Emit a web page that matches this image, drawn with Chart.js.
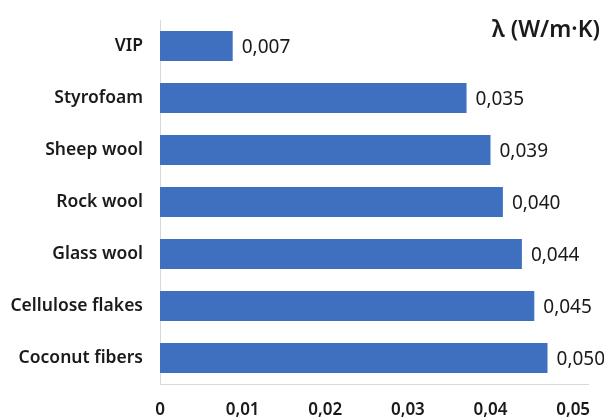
<!DOCTYPE html>
<html>
<head>
<meta charset="utf-8">
<script src="https://cdn.jsdelivr.net/npm/chart.js@4"></script>
<style>
  html, body { margin: 0; padding: 0; background: #fff; }
  #wrap { width: 604px; height: 419px; }
</style>
</head>
<body>
<div id="wrap"><canvas id="grafica" width="604" height="419"></canvas></div>
<script>
// materiales y lambda (W/m·K)
const materiales = ['VIP', 'Styrofoam', 'Sheep wool', 'Rock wool', 'Glass wool', 'Cellulose flakes', 'Coconut fibers'];
// largo de las barras tal como se ven en la figura
const valores = [0.0088, 0.0371, 0.0400, 0.0415, 0.0438, 0.0453, 0.0469];
// texto que aparece junto a cada barra
const etiquetas = ['0,007', '0,035', '0,039', '0,040', '0,044', '0,045', '0,050'];
const ticksX = [0, 0.01, 0.02, 0.03, 0.04, 0.05];
const ticksTexto = ['0', '0,01', '0,02', '0,03', '0,04', '0,05'];
const unidad = 'λ (W/m·K)';

const fuente = "'Noto Sans', 'Open Sans', sans-serif";

// dibuja los valores al final de cada barra y la unidad arriba a la derecha
const pluginEtiquetas = {
  id: 'etiquetas',
  afterDatasetsDraw(chart) {
    const ctx = chart.ctx;
    const meta = chart.getDatasetMeta(0);
    ctx.save();
    ctx.fillStyle = '#1a1a1a';
    ctx.font = `400 19px ${fuente}`;
    ctx.textBaseline = 'middle';
    ctx.textAlign = 'left';
    meta.data.forEach((barra, i) => {
      ctx.fillText(etiquetas[i], barra.x + 9, barra.y + 2);
    });
    ctx.font = `600 23px ${fuente}`;
    ctx.textAlign = 'right';
    ctx.fillText(unidad, 600, 30);
    ctx.restore();
  }
};

new Chart(document.getElementById('grafica'), {
  type: 'bar',
  data: {
    labels: materiales,
    datasets: [{
      data: valores,
      backgroundColor: '#3e70bf',
      borderWidth: 0,
      categoryPercentage: 1,
      barPercentage: 0.578
    }]
  },
  options: {
    indexAxis: 'y',
    responsive: false,
    animation: false,
    layout: { padding: { top: 20, right: 16, left: 0, bottom: 0 } },
    plugins: {
      legend: { display: false },
      tooltip: { enabled: false }
    },
    scales: {
      x: {
        min: 0,
        max: 0.0518,
        afterBuildTicks(scale) {
          scale.ticks = ticksX.map(v => ({ value: v }));
        },
        afterFit(scale) {
          scale.height = 35;
          scale.paddingLeft = 0;
          scale.paddingRight = 0;
        },
        grid: { display: false, drawTicks: false },
        border: { display: true, color: '#d9d9d9', width: 1 },
        ticks: {
          color: '#1a1a1a',
          padding: 16,
          maxRotation: 0,
          font: { family: fuente, size: 17, weight: '600' },
          callback: (v, i) => ticksTexto[i]
        }
      },
      y: {
        afterFit(scale) {
          scale.width = 160;
          scale.paddingTop = 0;
          scale.paddingBottom = 0;
        },
        grid: { display: false, drawTicks: false },
        border: { display: true, color: '#d9d9d9', width: 1 },
        ticks: {
          color: '#1a1a1a',
          padding: 17,
          font: { family: fuente, size: 17.5, weight: '600' }
        }
      }
    }
  },
  plugins: [pluginEtiquetas]
});
</script>
</body>
</html>
